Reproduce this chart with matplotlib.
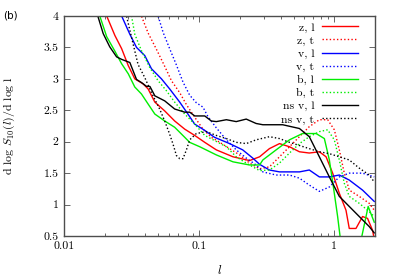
import matplotlib
matplotlib.use("Agg")
import matplotlib.pyplot as plt
from matplotlib.ticker import FixedLocator, NullFormatter, LogLocator

plt.rcParams["font.family"] = "serif"
plt.rcParams["font.serif"] = ["cmr10", "DejaVu Serif"]
plt.rcParams["mathtext.fontset"] = "cm"
plt.rcParams["axes.unicode_minus"] = False

# --- data: scale l, local slope ---
zl_l = [0.0200, 0.0207, 0.0238, 0.0267, 0.0299, 0.0334, 0.0385, 0.0419, 0.0470, 0.0556,
        0.0659, 0.0782, 0.0927, 0.110, 0.134, 0.178, 0.236, 0.280, 0.331, 0.393, 0.466,
        0.552, 0.653, 0.775, 0.869, 0.972, 1.089, 1.220, 1.290, 1.446, 1.618, 1.762, 1.919, 1.974]
zl_s = [4.05, 4.0, 3.69, 3.48, 3.21, 3.00, 2.92, 2.84, 2.63, 2.49,
        2.33, 2.20, 2.10, 1.99, 1.87, 1.76, 1.70, 1.76, 1.89, 1.97, 1.92,
        1.84, 1.82, 1.84, 1.76, 1.50, 1.18, 0.91, 0.62, 0.62, 0.81, 0.78, 0.59, 0.45]

zt_l = [0.0370, 0.0374, 0.0419, 0.0483, 0.0556, 0.0624, 0.0718, 0.0805, 0.0927, 0.1067,
        0.123, 0.142, 0.168, 0.199, 0.236, 0.280, 0.331, 0.393, 0.466, 0.552, 0.653,
        0.775, 0.893, 1.0, 1.089, 1.185, 1.290, 1.529, 1.813, 1.974]
zt_s = [4.05, 4.0, 3.73, 3.47, 3.20, 2.97, 2.78, 2.59, 2.39, 2.20,
        2.07, 1.99, 1.89, 1.79, 1.66, 1.57, 1.60, 1.76, 1.92, 2.08, 2.24,
        2.35, 2.35, 2.19, 1.87, 1.50, 1.23, 1.13, 1.02, 0.91]

vl_l = [0.0262, 0.0267, 0.0307, 0.0344, 0.0396, 0.0444, 0.0526, 0.0605, 0.0718, 0.0826,
        0.0927, 0.110, 0.130, 0.168, 0.210, 0.249, 0.280, 0.331, 0.393, 0.552, 0.653,
        0.775, 0.919, 1.089, 1.290, 1.618, 1.974]
vl_s = [4.05, 4.0, 3.71, 3.50, 3.37, 3.16, 3.00, 2.84, 2.63, 2.44,
        2.28, 2.18, 2.07, 1.97, 1.87, 1.74, 1.64, 1.55, 1.52, 1.52, 1.55,
        1.44, 1.44, 1.47, 1.39, 1.23, 1.05]

vt_l = [0.0490, 0.0497, 0.0541, 0.0605, 0.0679, 0.0759, 0.0851, 0.0953, 0.1067, 0.1161,
        0.134, 0.159, 0.188, 0.223, 0.264, 0.296, 0.371, 0.466, 0.552, 0.653, 0.775,
        0.919, 1.089, 1.290, 1.618, 1.974]
vt_s = [4.05, 4.0, 3.74, 3.48, 3.22, 2.95, 2.74, 2.62, 2.55, 2.40,
        2.22, 2.03, 1.87, 1.74, 1.63, 1.52, 1.47, 1.47, 1.42, 1.31, 1.21,
        1.28, 1.44, 1.50, 1.50, 1.44]

bl_l = [0.0180, 0.0184, 0.0207, 0.0238, 0.0267, 0.0299, 0.0334, 0.0374, 0.0419, 0.0470,
        0.0556, 0.0659, 0.0782, 0.0851, 0.101, 0.134, 0.178, 0.236, 0.280, 0.296, 0.371,
        0.466, 0.581, 0.733, 0.844, 0.919, 1.0, 1.058, 1.102, 1.2, 1.5, 1.60, 1.78, 1.974]
bl_s = [4.05, 4.0, 3.67, 3.44, 3.24, 3.08, 2.87, 2.76, 2.60, 2.44,
        2.33, 2.23, 2.07, 1.99, 1.92, 1.79, 1.68, 1.63, 1.63, 1.71, 1.87,
        2.03, 2.13, 2.13, 2.05, 1.71, 1.18, 0.81, 0.50, 0.30, 0.30, 0.50, 0.97, 0.72]

bt_l = [0.0304, 0.0316, 0.0334, 0.0374, 0.0431, 0.0497, 0.0573, 0.0659, 0.0782, 0.0927,
        0.110, 0.159, 0.188, 0.223, 0.280, 0.331, 0.393, 0.466, 0.552, 0.653, 0.775,
        0.893, 1.0, 1.089, 1.185, 1.290, 1.529, 1.762, 1.974]
bt_s = [4.05, 4.0, 3.71, 3.45, 3.18, 2.97, 2.81, 2.63, 2.44, 2.28,
        2.10, 1.92, 1.76, 1.66, 1.54, 1.55, 1.66, 1.82, 1.97, 2.08, 2.16,
        2.19, 2.03, 1.71, 1.34, 1.13, 1.02, 0.91, 0.81]

nsl_l = [0.0175, 0.0195, 0.0218, 0.0245, 0.0267, 0.0307, 0.0344, 0.0375, 0.0408, 0.0432,
         0.0470, 0.0556, 0.0659, 0.0782, 0.0851, 0.0927, 0.110, 0.123, 0.134, 0.159, 0.188,
         0.223, 0.264, 0.296, 0.415, 0.552, 0.653, 0.775, 0.919, 1.089, 1.290, 1.529, 1.813, 1.974]
nsl_s = [4.05, 3.72, 3.51, 3.35, 3.31, 3.26, 2.99, 2.94, 2.88, 2.88,
         2.73, 2.65, 2.52, 2.47, 2.47, 2.41, 2.41, 2.33, 2.32, 2.35, 2.32,
         2.36, 2.29, 2.27, 2.27, 2.21, 2.08, 1.76, 1.44, 1.13, 0.97, 0.81, 0.65, 0.55]

nst_l = [0.0286, 0.0290, 0.0325, 0.0353, 0.0396, 0.0444, 0.0510, 0.0556, 0.0605, 0.0641,
         0.0679, 0.0718, 0.0759, 0.0805, 0.0851, 0.0953, 0.113, 0.134, 0.159, 0.188, 0.223,
         0.264, 0.331, 0.393, 0.466, 0.552, 0.653, 0.775, 0.919, 1.089, 1.290, 1.529, 1.813, 1.974]
nst_s = [4.05, 4.0, 3.55, 3.23, 3.02, 2.78, 2.52, 2.33, 2.12, 1.96,
         1.78, 1.73, 1.73, 1.87, 2.03, 2.13, 2.16, 2.10, 2.05, 1.99, 1.97,
         2.03, 2.08, 2.05, 1.99, 1.94, 1.89, 1.84, 1.81, 1.76, 1.71, 1.58, 1.47, 1.36]

labels = ["z, l", "z, t", "v, l", "v, t", "b, l", "b, t", "ns v, l", "ns v, t"]
yticks = [0.5, 1, 1.5, 2, 2.5, 3, 3.5, 4]
ytick_labels = ["0.5", "1", "1.5", "2", "2.5", "3", "3.5", "4"]
xticks = [0.01, 0.1, 1]
xtick_labels = ["0.01", "0.1", "1"]

fig = plt.figure(figsize=(3.99, 2.79), dpi=100)
ax = fig.add_axes([64/399, 1-236/279, 311/399, 220/279])

dot = (0, (1, 1.6))
series = [(zl_l, zl_s, "#ff0000", "-"), (zt_l, zt_s, "#ff0000", dot),
          (vl_l, vl_s, "#0000ff", "-"), (vt_l, vt_s, "#0000ff", dot),
          (bl_l, bl_s, "#00ee00", "-"), (bt_l, bt_s, "#00ee00", dot),
          (nsl_l, nsl_s, "#000000", "-"), (nst_l, nst_s, "#000000", dot)]
for (xs, ys, c, ls), lab in zip(series, labels):
    ax.plot(xs, ys, color=c, ls=ls, lw=1.0, label=lab)

ax.set_xscale("log")
ax.set_xlim(0.01, 2)
ax.set_ylim(0.5, 4)
ax.xaxis.set_major_locator(FixedLocator(xticks))
ax.set_xticklabels(xtick_labels)
ax.xaxis.set_minor_locator(LogLocator(base=10, subs=range(2, 10)))
ax.xaxis.set_minor_formatter(NullFormatter())
ax.yaxis.set_major_locator(FixedLocator(yticks))
ax.set_yticklabels(ytick_labels)
ax.tick_params(which="both", direction="in", top=True, right=True, labelsize=8.5, pad=4)
ax.tick_params(which="major", length=4, width=0.6, color="0.3")
ax.tick_params(which="minor", length=2, width=0.6, color="0.3")
for s in ax.spines.values():
    s.set_color("0.3")
    s.set_linewidth(1.0)

ax.set_xlabel("$l$", fontsize=9)
ax.xaxis.set_label_coords(0.5, -0.125)
ax.set_ylabel("d log $S_{10}(l)$/d log l", fontsize=8.5)
ax.yaxis.set_label_coords(-0.152, 0.5)

ax.legend(loc="upper right", bbox_to_anchor=(0.945, 0.972), frameon=False,
          markerfirst=False, fontsize=8.5, handlelength=3.0, handletextpad=0.7,
          labelspacing=0.23, borderpad=0, borderaxespad=0)

fig.text(0.008, 0.962, "(b)", family="DejaVu Sans", fontsize=7.5, va="top")

fig.savefig("out.png", dpi=100)
